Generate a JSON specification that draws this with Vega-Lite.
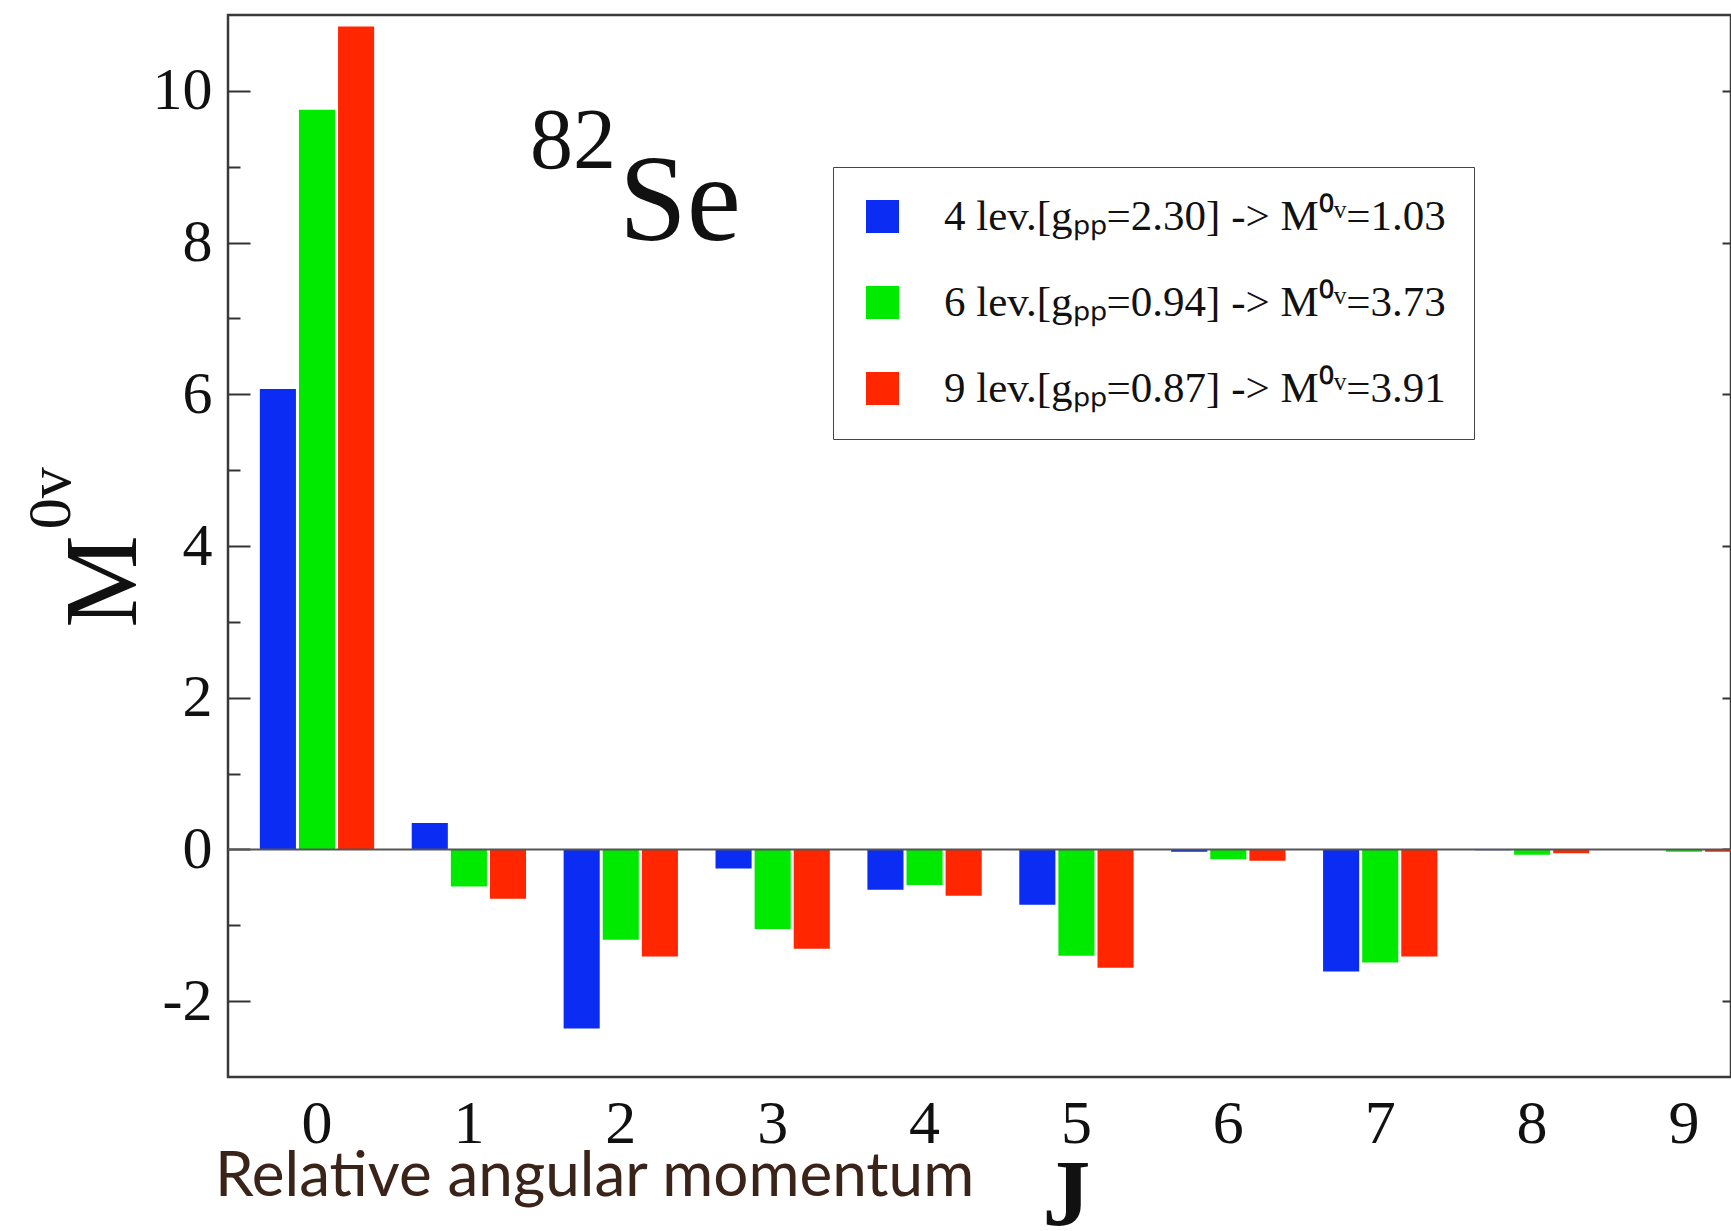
{
  "$schema": "https://vega.github.io/schema/vega-lite/v6.json",
  "width": 1503,
  "height": 1062,
  "autosize": {"type": "none"},
  "padding": {"left": 228, "top": 15, "right": 0, "bottom": 154},
  "background": "white",
  "config": {"view": {"stroke": "#3a3a3a", "strokeWidth": 2.5}},
  "datasets": {
    "one": [{"k": 1}],
    "bars": [
      {"J": 0, "series": "4 lev.[gₚₚ=2.30] -> M⁰ᵛ=1.03", "value": 6.07},
      {"J": 0, "series": "6 lev.[gₚₚ=0.94] -> M⁰ᵛ=3.73", "value": 9.75},
      {"J": 0, "series": "9 lev.[gₚₚ=0.87] -> M⁰ᵛ=3.91", "value": 10.85},
      {"J": 1, "series": "4 lev.[gₚₚ=2.30] -> M⁰ᵛ=1.03", "value": 0.35},
      {"J": 1, "series": "6 lev.[gₚₚ=0.94] -> M⁰ᵛ=3.73", "value": -0.49},
      {"J": 1, "series": "9 lev.[gₚₚ=0.87] -> M⁰ᵛ=3.91", "value": -0.65},
      {"J": 2, "series": "4 lev.[gₚₚ=2.30] -> M⁰ᵛ=1.03", "value": -2.36},
      {"J": 2, "series": "6 lev.[gₚₚ=0.94] -> M⁰ᵛ=3.73", "value": -1.19},
      {"J": 2, "series": "9 lev.[gₚₚ=0.87] -> M⁰ᵛ=3.91", "value": -1.41},
      {"J": 3, "series": "4 lev.[gₚₚ=2.30] -> M⁰ᵛ=1.03", "value": -0.25},
      {"J": 3, "series": "6 lev.[gₚₚ=0.94] -> M⁰ᵛ=3.73", "value": -1.05},
      {"J": 3, "series": "9 lev.[gₚₚ=0.87] -> M⁰ᵛ=3.91", "value": -1.31},
      {"J": 4, "series": "4 lev.[gₚₚ=2.30] -> M⁰ᵛ=1.03", "value": -0.53},
      {"J": 4, "series": "6 lev.[gₚₚ=0.94] -> M⁰ᵛ=3.73", "value": -0.47},
      {"J": 4, "series": "9 lev.[gₚₚ=0.87] -> M⁰ᵛ=3.91", "value": -0.61},
      {"J": 5, "series": "4 lev.[gₚₚ=2.30] -> M⁰ᵛ=1.03", "value": -0.73},
      {"J": 5, "series": "6 lev.[gₚₚ=0.94] -> M⁰ᵛ=3.73", "value": -1.40},
      {"J": 5, "series": "9 lev.[gₚₚ=0.87] -> M⁰ᵛ=3.91", "value": -1.56},
      {"J": 6, "series": "4 lev.[gₚₚ=2.30] -> M⁰ᵛ=1.03", "value": -0.03},
      {"J": 6, "series": "6 lev.[gₚₚ=0.94] -> M⁰ᵛ=3.73", "value": -0.13},
      {"J": 6, "series": "9 lev.[gₚₚ=0.87] -> M⁰ᵛ=3.91", "value": -0.15},
      {"J": 7, "series": "4 lev.[gₚₚ=2.30] -> M⁰ᵛ=1.03", "value": -1.61},
      {"J": 7, "series": "6 lev.[gₚₚ=0.94] -> M⁰ᵛ=3.73", "value": -1.49},
      {"J": 7, "series": "9 lev.[gₚₚ=0.87] -> M⁰ᵛ=3.91", "value": -1.41},
      {"J": 8, "series": "4 lev.[gₚₚ=2.30] -> M⁰ᵛ=1.03", "value": -0.01},
      {"J": 8, "series": "6 lev.[gₚₚ=0.94] -> M⁰ᵛ=3.73", "value": -0.07},
      {"J": 8, "series": "9 lev.[gₚₚ=0.87] -> M⁰ᵛ=3.91", "value": -0.05},
      {"J": 9, "series": "4 lev.[gₚₚ=2.30] -> M⁰ᵛ=1.03", "value": -0.005},
      {"J": 9, "series": "6 lev.[gₚₚ=0.94] -> M⁰ᵛ=3.73", "value": -0.03},
      {"J": 9, "series": "9 lev.[gₚₚ=0.87] -> M⁰ᵛ=3.91", "value": -0.03}
    ]
  },
  "resolve": {"scale": {"x": "shared", "y": "shared"}, "axis": {"y": "independent"}},
  "layer": [
    {
      "data": {"name": "bars"},
      "mark": {"type": "bar"},
      "encoding": {
        "x": {
          "field": "J", "type": "ordinal",
          "scale": {"range": [0, 1545], "paddingInner": 0.2475, "paddingOuter": 0.2097},
          "axis": {
            "orient": "bottom", "labelFont": "Liberation Serif", "labelFontSize": 62,
            "labelAngle": 0, "labelColor": "#111", "labelPadding": 16,
            "ticks": false, "domain": false, "grid": false,
            "title": "J", "titleFont": "Liberation Serif", "titleFontSize": 96,
            "titleFontWeight": "bold", "titleColor": "#111",
            "titleX": 838, "titleY": 148, "titleAlign": "center", "titleBaseline": "alphabetic"
          }
        },
        "xOffset": {"field": "series", "type": "nominal", "sort": null,
          "scale": {"paddingInner": 0.077, "paddingOuter": 0}},
        "y": {
          "field": "value", "type": "quantitative",
          "scale": {"domain": [-3, 11], "nice": false},
          "axis": {
            "orient": "left", "values": [-2, 0, 2, 4, 6, 8, 10],
            "offset": -22, "tickSize": 22, "tickWidth": 2, "tickColor": "#333",
            "domain": false, "grid": false,
            "labelExpr": "replace(datum.label, '−', '-')",
            "labelFont": "Liberation Serif", "labelFontSize": 60, "labelColor": "#111", "labelPadding": 16,
            "title": "M", "titleFont": "Liberation Serif", "titleFontSize": 104,
            "titleFontWeight": "normal", "titleColor": "#111",
            "titleX": -115, "titleY": 566, "titleAlign": "center", "titleBaseline": "alphabetic"
          }
        },
        "color": {
          "field": "series", "type": "nominal", "sort": null,
          "scale": {
            "domain": ["4 lev.[gₚₚ=2.30] -> M⁰ᵛ=1.03", "6 lev.[gₚₚ=0.94] -> M⁰ᵛ=3.73", "9 lev.[gₚₚ=0.87] -> M⁰ᵛ=3.91"],
            "range": ["#0b2cf2", "#00ea00", "#ff2600"]
          },
          "legend": {
            "orient": "none", "legendX": 605, "legendY": 152, "title": null,
            "symbolType": "square", "symbolSize": 1089, "symbolStrokeWidth": 0,
            "labelFont": "Liberation Serif", "labelFontSize": 43, "labelColor": "#111",
            "labelLimit": 0, "labelOffset": 40, "rowPadding": 42, "padding": 28,
            "strokeColor": "#444", "fillColor": "white"
          }
        }
      }
    },
    {
      "data": {"name": "one"},
      "mark": {"type": "rule", "color": "#555", "strokeWidth": 2},
      "encoding": {
        "y": {
          "datum": 0, "type": "quantitative",
          "axis": {
            "orient": "left", "values": [-1, 1, 3, 5, 7, 9],
            "offset": -12, "tickSize": 12, "tickWidth": 2, "tickColor": "#333",
            "labels": false, "domain": false, "grid": false, "title": null
          }
        }
      }
    },
    {
      "data": {"name": "one"},
      "mark": {"type": "text", "text": "0v", "font": "Liberation Serif", "fontSize": 62,
        "angle": 270, "align": "center", "baseline": "alphabetic", "dx": 0, "dy": -247, "color": "#111"},
      "encoding": {
        "x": {"datum": 0, "type": "ordinal"},
        "y": {
          "datum": 4.63, "type": "quantitative",
          "axis": {
            "orient": "right", "values": [-2, 0, 2, 4, 6, 8, 10],
            "offset": -9, "tickSize": 9, "tickWidth": 2, "tickColor": "#333",
            "labels": false, "domain": false, "grid": false, "title": null
          }
        }
      }
    },
    {
      "data": {"name": "one"},
      "mark": {"type": "text", "text": "82", "font": "Liberation Serif", "fontSize": 86,
        "align": "left", "baseline": "alphabetic", "dx": 61, "color": "#111"},
      "encoding": {
        "x": {"datum": 1, "type": "ordinal"},
        "y": {"datum": 8.98, "type": "quantitative", "axis": null}
      }
    },
    {
      "data": {"name": "one"},
      "mark": {"type": "text", "text": "Se", "font": "Liberation Serif", "fontSize": 122,
        "align": "left", "baseline": "alphabetic", "dx": 150, "color": "#111"},
      "encoding": {
        "x": {"datum": 1, "type": "ordinal"},
        "y": {"datum": 8.04, "type": "quantitative", "axis": null}
      }
    },
    {
      "data": {"name": "one"},
      "mark": {"type": "text", "text": "Relative angular momentum", "font": "Lato", "fontSize": 62,
        "align": "left", "baseline": "alphabetic", "dx": -102, "color": "#3a2318"},
      "encoding": {
        "x": {"datum": 0, "type": "ordinal"},
        "y": {"datum": -4.57, "type": "quantitative", "axis": null}
      }
    }
  ]
}
